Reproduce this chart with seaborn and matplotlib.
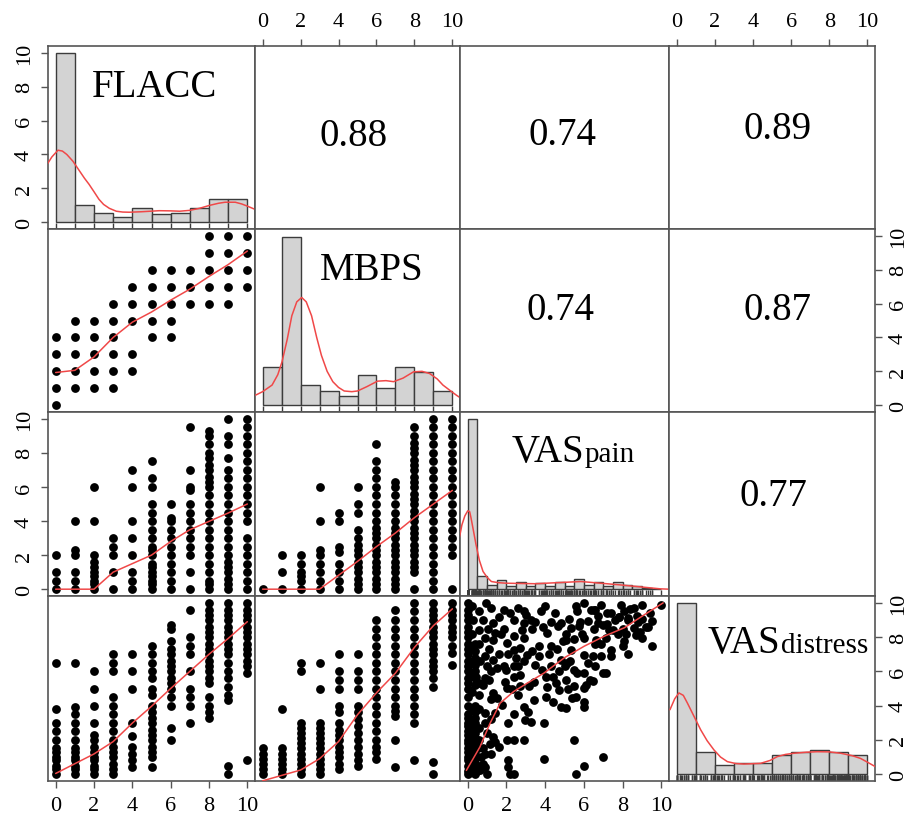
import numpy as np
import pandas as pd
import matplotlib
matplotlib.use("Agg")
import matplotlib.pyplot as plt
import seaborn as sns

# ---------------- data ----------------
LEVELS = list(range(11))           # integer scores 0..10 (FLACC, MBPS)
TICKS = [0, 2, 4, 6, 8, 10]
TICK_LABELS = ["0", "2", "4", "6", "8", "10"]

# correlations (upper panels): (row, col, text)
CORR_ROW = [0, 0, 0, 1, 1, 2]
CORR_COL = [1, 2, 3, 2, 3, 3]
CORR_TXT = ["0.88", "0.74", "0.89", "0.74", "0.87", "0.77"]
CORR_X = [4.8, 4.9, 5.27, 4.8, 5.29, 5.08]
CORR_Y = [4.55, 4.6, 4.98, 5.09, 5.09, 4.92]

# histograms on the diagonal (heights on the 0-10 panel scale)
FLACC_EDGES = [0, 1, 2, 3, 4, 5, 6, 7, 8, 9, 10]
FLACC_HIST = [10.0, 1.0, 0.57, 0.33, 0.86, 0.47, 0.57, 0.86, 1.35, 1.35]
MBPS_EDGES = [0, 1, 2, 3, 4, 5, 6, 7, 8, 9, 10]
MBPS_HIST = [2.26, 9.92, 1.19, 0.84, 0.57, 1.77, 0.99, 2.26, 1.97, 0.84]
VASP_EDGES = [0, 0.5, 1, 1.5, 2, 2.5, 3, 3.5, 4, 4.5, 5, 5.5, 6, 6.5, 7, 7.5,
              8, 8.5, 9, 9.5, 10]
VASP_HIST = [10.0, 0.8, 0.22, 0.55, 0.16, 0.41, 0.16, 0.35, 0.16, 0.41, 0.16,
             0.59, 0.25, 0.41, 0.16, 0.41, 0.25, 0.16, 0.06, 0.02]
VASD_EDGES = [0, 1, 2, 3, 4, 5, 6, 7, 8, 9, 10]
VASD_HIST = [10.0, 1.31, 0.53, 0.63, 0.63, 1.12, 1.27, 1.41, 1.27, 1.12]

# density curves on the diagonal
FLACC_DX = [-0.47, -0.2, 0.12, 0.35, 0.58, 0.9, 1.2, 1.5, 1.74, 2.0, 2.26,
            2.5, 2.8, 3.16, 3.5, 3.84, 4.5, 5.4, 6.0, 6.47, 7.0, 7.5, 8.05,
            8.5, 8.84, 9.37, 9.7, 10.0, 10.4]
FLACC_DY = [3.37, 3.85, 4.25, 4.2, 4.0, 3.6, 3.1, 2.6, 2.24, 1.8, 1.35,
            1.05, 0.82, 0.65, 0.6, 0.59, 0.62, 0.68, 0.67, 0.65, 0.7, 0.82,
            1.0, 1.12, 1.18, 1.18, 1.08, 0.95, 0.76]
MBPS_DX = [-0.36, 0.0, 0.5, 0.8, 1.02, 1.3, 1.54, 1.8, 2.06, 2.3, 2.58, 2.85,
           3.1, 3.4, 3.7, 4.0, 4.3, 4.7, 5.0, 5.5, 6.05, 6.5, 6.9, 7.4, 7.95,
           8.4, 8.8, 9.2, 9.5, 9.9, 10.2, 10.4]
MBPS_DY = [0.6, 0.8, 1.19, 1.8, 2.55, 3.9, 5.28, 6.1, 6.36, 6.1, 5.28, 4.0,
           2.94, 2.0, 1.39, 1.05, 0.84, 0.8, 0.84, 1.1, 1.42, 1.45, 1.39, 1.6,
           1.97, 2.0, 1.87, 1.55, 1.19, 0.85, 0.6, 0.45]
VASP_DX = [-0.52, -0.4, -0.3, -0.15, 0.0, 0.1, 0.17, 0.3, 0.43, 0.6, 0.79,
           1.0, 1.22, 1.6, 2.0, 3.5, 5.85, 7.9, 9.95, 10.4]
VASP_DY = [2.6, 3.2, 3.78, 4.3, 4.6, 4.55, 4.18, 3.4, 2.6, 1.7, 1.04, 0.7,
           0.45, 0.38, 0.35, 0.32, 0.45, 0.25, 0.02, 0.0]
VASD_DX = [-0.35, -0.1, 0.12, 0.35, 0.56, 0.9, 1.26, 1.6, 1.96, 2.3, 2.66,
           3.1, 3.53, 4.4, 4.9, 5.27, 5.7, 6.15, 6.8, 7.37, 8.0, 8.6, 9.2,
           9.64, 10.0, 10.43]
VASD_DY = [3.76, 4.4, 4.74, 4.6, 4.16, 3.4, 2.59, 1.95, 1.41, 1.0, 0.73,
           0.62, 0.59, 0.63, 0.8, 1.02, 1.15, 1.22, 1.28, 1.31, 1.3, 1.22,
           1.08, 0.92, 0.7, 0.43]

# MBPS (y) by FLACC level (x)
MBPS_BY_FLACC = [[0, 1, 2, 3, 4], [1, 2, 3, 4, 5], [1, 2, 3, 4, 5],
                 [1, 2, 3, 4, 5, 6], [2, 3, 5, 6, 7], [4, 5, 6, 7, 8],
                 [4, 5, 6, 7, 8], [6, 7, 8], [6, 7, 8, 9, 10],
                 [6, 7, 8, 9, 10], [7, 8, 9, 10]]
# VASpain (y) by FLACC level (x)
VASP_BY_FLACC = [
    [0, 0.5, 1, 2],
    [0, 0.5, 1, 2, 2.3, 4],
    [0, 0.3, 0.5, 0.8, 1, 1.3, 1.6, 2, 4, 6],
    [0, 1, 2, 2.5, 3],
    [0, 0.5, 1, 2, 3, 4, 6, 7],
    [0, 0.3, 0.5, 0.8, 1, 1.3, 1.5, 2, 2.3, 2.5, 3, 3.5, 4, 4.5, 5, 6, 6.5, 7.5],
    [0, 0.5, 1, 1.5, 2, 2.5, 3, 3.5, 4, 4.2, 5],
    [0, 1, 2, 2.5, 3, 3.5, 4, 4.5, 5, 5.8, 6, 7, 9.5],
    [0, 0.3, 0.5, 1, 1.5, 2, 2.5, 3, 3.5, 4, 4.5, 5, 5.5, 6, 6.3, 6.6, 7, 7.3,
     7.7, 8, 8.5, 9, 9.3],
    [0, 0.3, 0.6, 1, 1.3, 1.6, 2, 2.5, 3, 3.5, 4, 4.5, 5, 5.5, 6, 6.5, 7, 7.7,
     8.5, 9, 10],
    [0, 0.5, 1, 1.5, 2, 2.5, 3, 4, 4.5, 5, 5.5, 6, 6.5, 7, 7.5, 8, 8.5, 9, 9.5,
     10]]
# VASpain (y) by MBPS level (x)
VASP_BY_MBPS = [
    [0],
    [0, 1, 2],
    [0, 0.5, 0.8, 1, 1.5, 2],
    [0, 0.5, 1, 1.5, 2, 2.3, 4, 6],
    [0, 0.5, 1, 1.5, 2.2, 2.5, 4, 4.5],
    [0, 0.3, 0.6, 1, 1.3, 1.6, 2, 2.3, 2.6, 3, 3.5, 4.5, 5, 6],
    [0, 0.3, 0.6, 1, 1.3, 1.6, 2, 2.3, 2.6, 3, 3.3, 3.6, 4, 4.5, 5, 5.5, 6,
     6.5, 7, 7.5, 8.5],
    [0, 0.3, 0.6, 1, 1.3, 1.6, 2, 2.3, 2.6, 3, 3.3, 3.6, 4, 4.5, 5, 5.5, 6, 6.3],
    [0, 1, 1.3, 1.6, 2, 2.3, 2.6, 3, 3.3, 3.6, 4, 4.3, 4.6, 5, 5.3, 5.6, 6,
     6.3, 6.6, 7, 7.3, 7.6, 8, 8.3, 8.6, 9, 9.5],
    [0, 0.5, 1, 1.5, 2, 2.5, 3, 3.5, 4, 4.5, 5, 5.5, 6, 6.5, 7, 7.5, 8, 8.5, 9,
     9.5, 10],
    [0, 2, 2.5, 3, 3.5, 4, 4.5, 5, 5.5, 6, 6.5, 7, 7.5, 8, 8.5, 9, 9.5, 10]]
# VASdistress (y) by FLACC level (x)
VASD_BY_FLACC = [
    [0, 0.3, 0.5, 0.8, 1, 1.3, 1.5, 2, 2.5, 3, 3.8, 6.5],
    [0, 0.3, 0.5, 0.8, 1, 1.3, 1.5, 2, 2.5, 3, 3.5, 3.9, 6.5],
    [0, 0.3, 0.5, 0.8, 1, 1.3, 1.6, 2, 2.3, 3, 4, 5, 6],
    [0, 0.3, 0.6, 1, 1.3, 1.6, 2, 2.5, 3, 3.5, 4, 4.5, 6, 6.5, 7],
    [0.4, 0.8, 1.2, 1.6, 2.2, 3, 5, 6, 7],
    [0.4, 1, 1.3, 1.6, 2, 2.3, 2.6, 3, 3.3, 3.6, 4, 4.6, 5, 5.6, 6, 6.5, 7, 7.5],
    [2, 2.7, 4, 4.5, 5, 5.3, 5.6, 6, 6.3, 6.6, 7, 7.3, 7.8, 8.5, 8.7],
    [3, 4, 4.5, 5, 6, 7, 7.5, 8, 9.6],
    [3.3, 3.6, 4, 4.5, 5.3, 5.6, 6, 6.3, 6.6, 7, 7.3, 7.6, 8, 8.3, 8.6, 9, 9.3,
     9.6, 10],
    [0, 0.5, 4.3, 4.6, 5.1, 5.6, 6, 6.5, 7, 7.3, 7.6, 8, 8.3, 8.6, 9, 9.3, 9.6,
     10],
    [0.8, 5.9, 6.3, 6.6, 7, 7.3, 7.6, 8, 8.3, 8.6, 9, 9.3, 9.6, 10]]
# VASdistress (y) by MBPS level (x)
VASD_BY_MBPS = [
    [0, 0.3, 0.6, 0.9, 1.2, 1.5],
    [0, 0.3, 0.6, 0.9, 1.2, 1.5, 3.8],
    [0, 0.3, 0.6, 0.9, 1.2, 1.5, 1.8, 2.1, 2.4, 2.7, 3, 6, 6.5],
    [0, 0.3, 0.6, 0.9, 1.2, 1.5, 1.8, 2.1, 2.4, 2.7, 3, 5, 6.5],
    [0.3, 0.6, 1, 1.3, 1.6, 2, 2.3, 2.6, 3, 3.6, 4, 5, 5.5, 6, 7],
    [0.5, 0.8, 1.2, 1.6, 2, 2.4, 2.8, 3.2, 3.6, 4, 5, 5.5, 6, 7],
    [0.9, 1.3, 1.6, 2, 2.5, 3, 3.5, 4, 4.5, 5, 5.5, 6, 6.5, 7, 7.5, 8, 8.5, 9],
    [0.4, 2, 3.4, 3.7, 4, 4.5, 5, 5.5, 6, 6.5, 7, 7.5, 8, 8.5, 9, 9.6],
    [0.8, 3, 3.5, 4, 4.5, 5, 5.5, 6, 6.5, 7, 7.5, 8, 8.5, 9, 9.5, 10],
    [0, 0.7, 5.1, 5.6, 6, 6.3, 6.6, 7, 7.3, 7.6, 8, 8.3, 8.6, 9, 9.3, 9.6, 10],
    [6.4, 7.1, 7.5, 8, 8.3, 8.6, 9, 9.3, 9.6, 10]]

# VASpain (x) vs VASdistress (y), continuous scores
VP_X = ([0.0] * 33 + [0.37] * 21 +
        [0.94, 1.85, 2.2, 2.37, 2.9, 2.9, 3.77, 0.8, 1.06, 0.89, 1.41, 1.33,
         1.85, 2.37, 2.03, 2.81, 3.25, 3.33, 2.9, 3.68, 4.1, 4.3, 4.64, 4.8,
         2.37, 2.72, 3.07, 2.9, 0.89, 1.33, 0.98, 1.5, 1.85, 2.37, 2.72, 2.37,
         0.45, 0.89, 3.85, 4.03, 4.4, 4.55, 4.8, 5.0, 0.8, 1.33, 1.5, 1.76,
         2.03, 2.72, 3.16, 4.03, 0.89, 1.41, 0.89, 2.1, 2.9, 2.98, 3.25, 3.94,
         1.33, 1.6, 1.17, 2.03, 2.37, 2.9, 0.89, 0.8, 0.63, 0.98, 2.1, 2.1,
         3.94, 2.2, 2.37, 4.8, 0.6, 0.7, 0.55, 0.25, 0.6, 0.9, 0.5,
         6.02, 6.37, 6.9, 6.72, 7.4, 7.6, 7.94, 8.1, 8.4, 9.0, 10.0, 8.77, 9.42,
         5.67, 5.23, 6.2, 6.72, 7.2, 9.0, 9.5, 5.32, 5.75, 8.02, 8.6, 5.06,
         6.02, 6.63, 7.15, 7.77, 8.1, 9.0, 9.5, 7.4, 8.02, 5.32, 6.02, 6.46,
         6.9, 6.2, 5.15, 5.5, 5.67, 6.02, 6.46, 6.98, 7.15, 5.06, 5.5, 6.02,
         6.1, 5.41, 6.02, 6.02, 5.06, 5.5, 6.98, 6.02, 5.58,
         7.0, 7.8, 8.3, 8.9, 6.5, 7.3, 8.6, 9.3, 5.9, 6.6,
         0.2, 0.25, 0.2, 0.2, 0.25, 0.2, 0.2, 0.25, 0.2, 0.2, 0.25, 0.2,
         0.6, 1.2, 1.6, 1.3, 0.6, 1.7, 2.6, 3.0, 3.5, 3.9, 4.3, 4.5, 4.0,
         0.6, 1.1, 1.6, 2.1, 2.5, 3.3, 3.7, 4.2, 4.6, 4.9, 5.1,
         0.65, 1.2, 2.0, 2.6, 3.5, 4.3, 4.7, 5.3,
         0.6, 1.1, 1.9, 2.3, 3.4, 4.1, 4.7, 5.2,
         0.6, 1.2, 2.6, 3.4, 4.4, 5.6, 6.3, 6.6, 7.4, 8.3,
         0.6, 1.2, 2.4, 3.1, 0.6, 1.0, 1.4, 0.8, 1.2, 0.45,
         5.6, 6.6, 7.2, 7.8, 8.3, 8.8, 9.2, 5.8, 6.5, 7.5, 8.2, 5.5, 6.9, 8.7])
VD_Y = ([0, 0.2, 0.5, 0.8, 1, 1.3, 1.5, 1.8, 2, 2.3, 2.5, 2.8, 3, 3.3, 3.5, 4,
         4.5, 5, 5.3, 5.6, 6, 6.3, 6.6, 7, 7.3, 7.6, 8, 8.3, 8.6, 9, 9.3, 9.6,
         10] +
        [0, 0.3, 0.6, 0.9, 1.2, 1.5, 1.8, 2.1, 2.4, 2.7, 3, 3.3, 3.6, 4.0,
         5.2, 5.6, 6, 6.4, 6.8, 7.2, 7.6] +
        [10.0, 9.6, 9.4, 9.0, 9.5, 8.8, 9.5, 9.0, 8.5, 7.96, 8.25, 7.86,
         8.5, 8.06, 7.67, 8.4, 9.0, 8.45, 7.96, 7.47, 8.25, 7.47, 8.65, 8.84,
         7.27, 7.37, 6.98, 6.59, 6.88, 6.69, 6.29, 6.2, 6.29, 6.29, 5.8, 5.7,
         5.7, 5.6, 6.1, 5.7, 5.7, 5.3, 6.69, 6.29, 5.2, 4.73, 4.43, 4.04,
         5.02, 5.12, 5.12, 4.53, 3.55, 3.55, 2.96, 2.96, 3.94, 3.16, 3.06, 2.96,
         2.18, 1.59, 1.78, 1.98, 1.98, 1.98, 1.2, 0.61, 0.22, 0.02, 0.8, 0.41,
         0.9, 0.0, 0.0, 3.94, 0.5, 1.0, 1.5, 2.3, 2.0, 0.4, 0.2,
         10.0, 9.6, 9.9, 9.24, 9.43, 9.0, 9.9, 9.53, 9.63, 9.9, 9.9, 9.24, 9.43,
         9.53, 9.04, 8.94, 8.84, 8.75, 9.04, 8.94, 8.55, 8.65, 8.45, 8.55, 7.86,
         7.96, 7.86, 7.96, 8.16, 7.76, 7.96, 7.47, 7.27, 7.47, 7.27, 6.98, 6.88,
         6.88, 6.49, 6.49, 6.1, 5.9, 5.9, 5.41, 5.9, 5.9, 5.51, 5.12, 5.02,
         5.2, 4.43, 4.24, 3.94, 3.84, 2.0, 0.98, 0.49, 0.0,
         8.7, 9.2, 9.0, 8.3, 9.6, 8.4, 9.7, 8.6, 8.2, 7.6,
         9.8, 9.0, 8.2, 7.4, 6.6, 5.8, 4.8, 3.8, 3.0, 2.2, 1.4, 0.6,
         9.5, 9.7, 9.2, 8.8, 8.4, 8.2, 9.7, 9.3, 8.9, 8.6, 8.9, 9.4, 9.8,
         7.6, 7.3, 7.0, 7.0, 6.8, 7.2, 6.9, 7.0, 7.3, 7.8, 8.2,
         6.6, 6.0, 6.1, 6.3, 6.4, 6.3, 6.0, 6.6,
         5.3, 5.5, 5.4, 5.0, 5.4, 5.1, 4.9, 5.0,
         4.6, 4.4, 4.6, 4.3, 4.2, 4.5, 5.5, 6.3, 6.9, 7.0,
         3.8, 3.2, 3.5, 3.6, 2.7, 2.4, 1.9, 1.5, 1.2, 1.0,
         9.8, 9.6, 9.4, 9.2, 9.1, 8.9, 8.6, 8.9, 8.5, 8.4, 8.2, 7.9, 7.6, 8.1])

# smooth (loess) lines of the lower panels
LO_21_X = [0, 1, 2, 3, 4, 5, 6, 7, 8, 9, 10]
LO_21_Y = [1.93, 2.06, 2.85, 4.0, 4.9, 5.5, 6.2, 6.85, 7.6, 8.3, 9.1]
LO_31_X = [0, 2, 3, 5, 6, 7, 8, 9, 10]
LO_31_Y = [0, 0, 1.0, 2.0, 2.8, 3.49, 3.98, 4.47, 5.0]
LO_32_X = [0, 3, 5, 6, 7, 8, 9, 10]
LO_32_Y = [0, 0, 1.63, 2.5, 3.3, 4.2, 5.0, 5.8]
LO_41_X = [0, 2, 3, 4, 5, 6, 7, 8, 9, 10]
LO_41_Y = [0.04, 1.18, 1.9, 2.98, 3.96, 5.0, 6.0, 7.0, 7.92, 8.9]
LO_42_X = [0, 2, 3, 4, 5, 6, 7, 8, 9, 10]
LO_42_Y = [-0.39, 0.24, 0.9, 1.9, 3.47, 4.75, 5.9, 7.4, 8.67, 9.65]
LO_43_X = [-0.07, 0.63, 1.15, 1.67, 2.37, 3.07, 3.94, 5.0, 6.02, 7.07, 8.1,
           9.16, 10.1]
LO_43_Y = [0.22, 1.59, 2.96, 4.14, 4.82, 5.31, 5.9, 6.8, 7.47, 8.06, 8.55,
           9.33, 10.0]

# ---------------- style ----------------
sns.set_theme(style="white")
plt.rcParams["font.family"] = ["Liberation Serif", "DejaVu Serif"]
plt.rcParams["text.color"] = "black"
plt.rcParams["xtick.labelcolor"] = "black"
plt.rcParams["ytick.labelcolor"] = "black"
RED = "#f04848"
FRAME = "#555555"
HIST_FILL = "#d3d3d3"
HIST_EDGE = "#3c3c3c"

fig = plt.figure(figsize=(9.13, 8.2), dpi=100)
W, H = 913.0, 820.0
XS = [48, 255, 460, 669, 875]
YS = [47, 230, 413, 597, 782]

axes = [[None] * 4 for _ in range(4)]
for r in range(4):
    for c in range(4):
        x0, x1 = XS[c], XS[c + 1]
        y0, y1 = YS[r], YS[r + 1]
        axes[r][c] = fig.add_axes([x0 / W, 1 - y1 / H, (x1 - x0) / W,
                                   (y1 - y0) / H])


def expand(levels, ylists):
    xs, ys = [], []
    for lv, yl in zip(levels, ylists):
        xs += [lv] * len(yl)
        ys += list(yl)
    return pd.DataFrame({"x": xs, "y": ys})


def scatter(ax, df):
    sns.scatterplot(data=df, x="x", y="y", ax=ax, color="black", s=40,
                    linewidth=0, legend=False, zorder=2)


def smooth(ax, xs, ys):
    sns.lineplot(x=xs, y=ys, ax=ax, color=RED, lw=1.1, sort=False,
                 estimator=None, zorder=3)


def diag(ax, edges, heights, dx, dy, rug):
    e = np.asarray(edges, float)
    centers = (e[:-1] + e[1:]) / 2
    sns.histplot(x=centers, weights=heights, bins=edges, ax=ax,
                 color=HIST_FILL, edgecolor=HIST_EDGE, linewidth=1.0,
                 alpha=1.0, zorder=1)
    sns.lineplot(x=dx, y=dy, ax=ax, color=RED, lw=1.1, sort=False,
                 estimator=None, zorder=3)
    sns.rugplot(x=rug, ax=ax, height=0.035, color=HIST_EDGE, lw=0.8,
                zorder=2)


# lower panels
scatter(axes[1][0], expand(LEVELS, MBPS_BY_FLACC))
smooth(axes[1][0], LO_21_X, LO_21_Y)
scatter(axes[2][0], expand(LEVELS, VASP_BY_FLACC))
smooth(axes[2][0], LO_31_X, LO_31_Y)
scatter(axes[2][1], expand(LEVELS, VASP_BY_MBPS))
smooth(axes[2][1], LO_32_X, LO_32_Y)
scatter(axes[3][0], expand(LEVELS, VASD_BY_FLACC))
smooth(axes[3][0], LO_41_X, LO_41_Y)
scatter(axes[3][1], expand(LEVELS, VASD_BY_MBPS))
smooth(axes[3][1], LO_42_X, LO_42_Y)
scatter(axes[3][2], pd.DataFrame({"x": VP_X, "y": VD_Y}))
smooth(axes[3][2], LO_43_X, LO_43_Y)

# diagonal
diag(axes[0][0], FLACC_EDGES, FLACC_HIST, FLACC_DX, FLACC_DY, LEVELS)
diag(axes[1][1], MBPS_EDGES, MBPS_HIST, MBPS_DX, MBPS_DY, LEVELS)
diag(axes[2][2], VASP_EDGES, VASP_HIST, VASP_DX, VASP_DY, VP_X)
diag(axes[3][3], VASD_EDGES, VASD_HIST, VASD_DX, VASD_DY, VD_Y)

# diagonal names
axes[0][0].text(5.16, 7.43, "FLACC", ha="center", va="baseline", fontsize=28,
                zorder=5)
axes[1][1].text(5.75, 7.43, "MBPS", ha="center", va="baseline", fontsize=28,
                zorder=5)
axes[2][2].text(6.02, 7.55, "VAS", ha="right", va="baseline", fontsize=28,
                zorder=5)
axes[2][2].text(6.02, 7.55, "pain", ha="left", va="baseline", fontsize=21,
                zorder=5)
axes[3][3].text(5.45, 7.14, "VAS", ha="right", va="baseline", fontsize=28,
                zorder=5)
axes[3][3].text(5.45, 7.14, "distress", ha="left", va="baseline",
                fontsize=21, zorder=5)

# correlations
for r, c, t, x, y in zip(CORR_ROW, CORR_COL, CORR_TXT, CORR_X, CORR_Y):
    axes[r][c].text(x, y, t, ha="center", va="baseline", fontsize=28)

# axes cosmetics
for r in range(4):
    for c in range(4):
        ax = axes[r][c]
        ax.set_xlim(-0.4, 10.4)
        ax.set_ylim(-0.4, 10.4)
        ax.set_xlabel("")
        ax.set_ylabel("")
        ax.set_xticks(TICKS)
        ax.set_yticks(TICKS)
        ax.set_xticklabels(TICK_LABELS)
        ax.set_yticklabels(TICK_LABELS)
        for sp in ax.spines.values():
            sp.set_visible(True)
            sp.set_color(FRAME)
            sp.set_linewidth(1.2)
        ax.tick_params(which="both", direction="out", length=5, width=1,
                       color=FRAME, labelsize=16, pad=5,
                       labelcolor="black",
                       bottom=False, top=False, left=False, right=False,
                       labelbottom=False, labeltop=False, labelleft=False,
                       labelright=False)
        if r == 0 and c in (1, 3):
            ax.tick_params(axis="x", top=True, labeltop=True, pad=6)
        if r == 3 and c in (0, 2):
            ax.tick_params(axis="x", bottom=True, labelbottom=True, pad=6)
        if c == 0 and r in (0, 2):
            ax.tick_params(axis="y", left=True, labelleft=True, pad=5)
            for lab in ax.get_yticklabels():
                lab.set_rotation(90)
                lab.set_va("center")
        if c == 3 and r in (1, 3):
            ax.tick_params(axis="y", right=True, labelright=True, pad=5)
            for lab in ax.get_yticklabels():
                lab.set_rotation(90)
                lab.set_va("center")

fig.savefig("out.png", dpi=100, facecolor="white")
